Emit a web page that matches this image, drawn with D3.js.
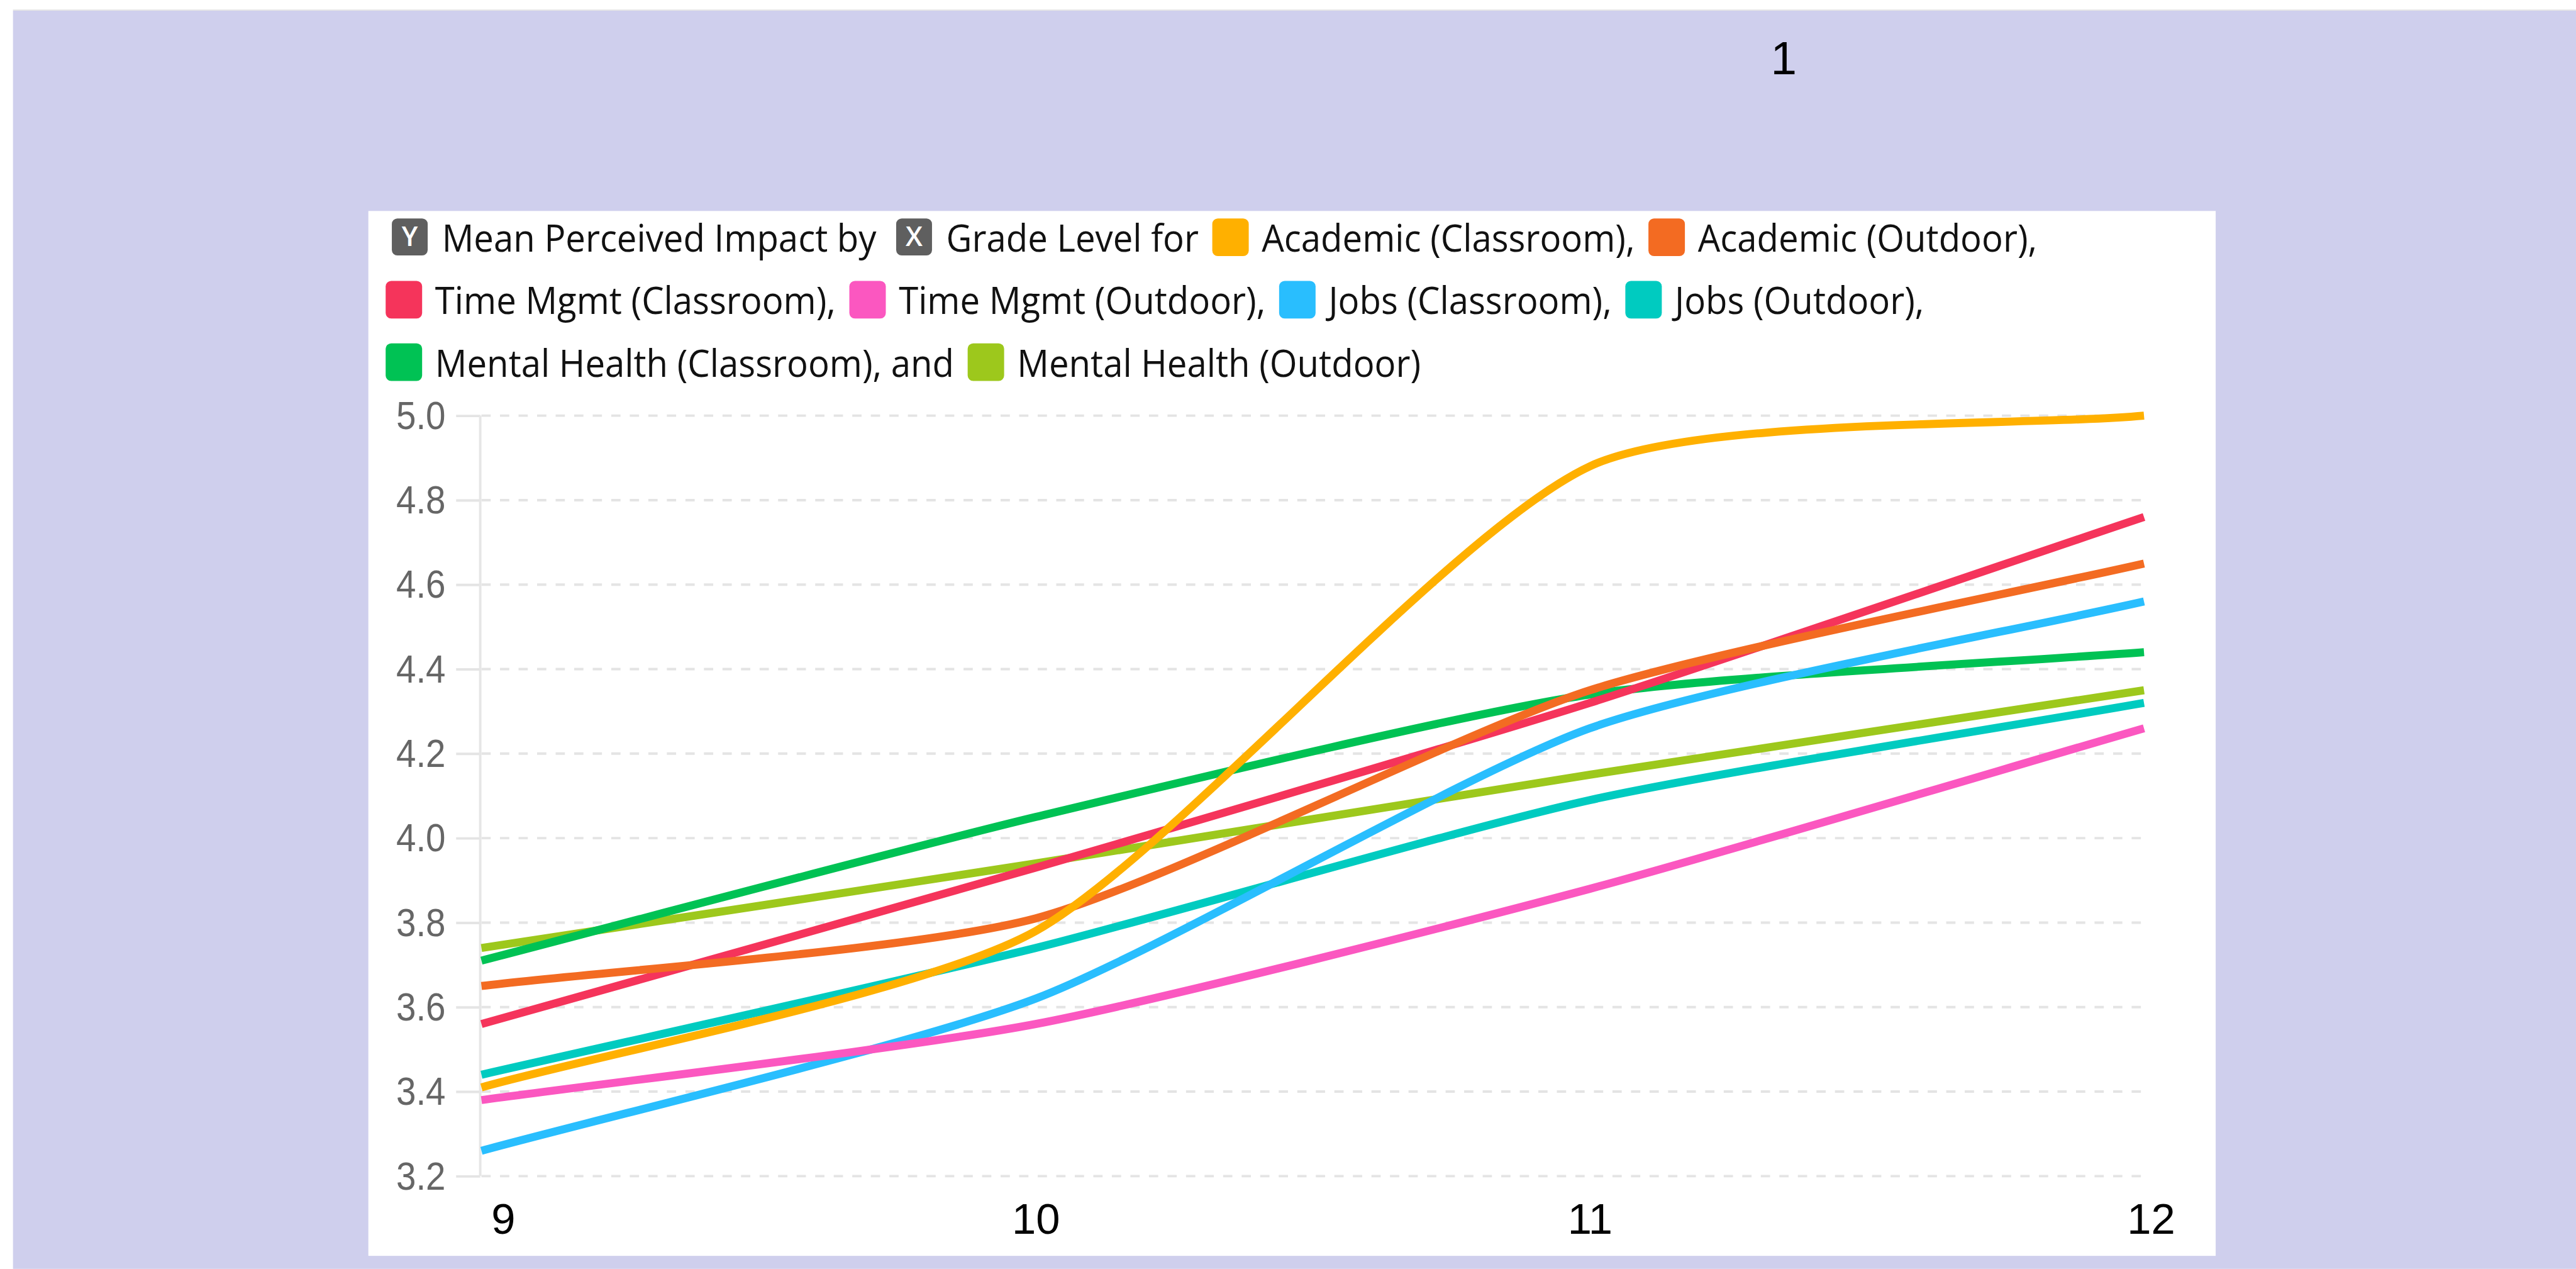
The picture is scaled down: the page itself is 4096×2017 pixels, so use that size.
<!DOCTYPE html>
<html>
<head>
<meta charset="utf-8">
<title>Mean Perceived Impact by Grade Level</title>
<style>
    body { margin: 0; background: #fff; }
    .grid { stroke: #e4e4e4; stroke-width: 4px; stroke-dasharray: 15 15; }
    .ytick line { stroke: #e4e4e4; stroke-width: 4px; }
    .ytick text { fill: #666; font-family: "Liberation Sans", Arial, sans-serif; font-size: 64px; }
    .xtick text { fill: #000; font-family: "Liberation Sans", Arial, sans-serif; font-size: 70px; }
    .series { fill: none; stroke-width: 13px; stroke-linecap: butt; stroke-linejoin: round; }
    .legend text { font-family: "Open Sans", "Noto Sans", sans-serif; font-size: 62px; fill: #111; }
</style>
</head>
<body>
<svg id="chart" width="4096" height="2017" viewBox="0 0 4168 2052"></svg>
<script src="https://cdn.jsdelivr.net/npm/d3@7/dist/d3.min.js"></script>
<script>
    // values
    const grades = [9, 10, 11, 12]
    const academicClassroom = [3.41, 3.78, 4.88, 5.00]
    const academicOutdoor = [3.65, 3.81, 4.35, 4.65]
    const timeClassroom = [3.56, 3.93, 4.32, 4.76]
    const timeOutdoor = [3.38, 3.56, 3.88, 4.26]
    const jobsClassroom = [3.26, 3.62, 4.26, 4.56]
    const jobsOutdoor = [3.44, 3.74, 4.09, 4.32]
    const mentalClassroom = [3.71, 4.05, 4.34, 4.44]
    const mentalOutdoor = [3.74, 3.94, 4.15, 4.35]

    const seriesNames = ["Academic (Classroom)", "Academic (Outdoor)", "Time Mgmt (Classroom)",
        "Time Mgmt (Outdoor)", "Jobs (Classroom)", "Jobs (Outdoor)",
        "Mental Health (Classroom)", "Mental Health (Outdoor)"]
    const seriesValues = [academicClassroom, academicOutdoor, timeClassroom, timeOutdoor,
        jobsClassroom, jobsOutdoor, mentalClassroom, mentalOutdoor]
    const seriesColors = ["#ffb000", "#f36b22", "#f5345b", "#fb57c0",
        "#29befe", "#00cbc0", "#00c254", "#9dc81c"]
    const yTicks = [3.2, 3.4, 3.6, 3.8, 4.0, 4.2, 4.4, 4.6, 4.8, 5.0]
    const yLabel = "Mean Perceived Impact by"
    const xLabel = "Grade Level for"

    let svg = d3.select("#chart")

    // page background
    svg.append("rect").attr("x", 0).attr("y", 0).attr("width", 4168).attr("height", 2052).attr("fill", "#fff")
    svg.append("rect").attr("x", 21).attr("y", 17).attr("width", 4147).attr("height", 2035).attr("fill", "#cfcfed")
    svg.append("line").attr("x1", 21).attr("x2", 4168).attr("y1", 16).attr("y2", 16)
        .attr("stroke", "#e6e6e6").attr("stroke-width", 2)

    svg.append("text").text("1")
        .attr("x", 2886).attr("y", 120)
        .attr("text-anchor", "middle")
        .style("font-family", "'Liberation Sans', Arial, sans-serif")
        .style("font-size", "76px")

    // white chart card
    svg.append("rect").attr("x", 596).attr("y", 341).attr("width", 2989).attr("height", 1690).attr("fill", "#fff")

    let xScale = d3.scaleLinear().domain([9, 12]).range([779, 3469])
    let yScale = d3.scaleLinear().domain([3.2, 5.0]).range([1902, 672])

    // dashed grid
    svg.append("g").selectAll("line")
        .data(yTicks)
        .join("line")
        .attr("class", "grid")
        .attr("x1", xScale(9)).attr("x2", xScale(12))
        .attr("y1", d => yScale(d)).attr("y2", d => yScale(d))

    // y axis
    let yAxis = svg.append("g")
        .attr("class", "ytick")
        .attr("transform", `translate(${xScale(9) - 2}, 0)`)
        .call(d3.axisLeft(yScale)
            .tickValues(yTicks)
            .tickFormat(d3.format(".1f"))
            .tickSize(39)
            .tickPadding(17))
    yAxis.select(".domain").remove()
    yAxis.selectAll("text").attr("dy", "0.33em").attr("textLength", 80).attr("lengthAdjust", "spacingAndGlyphs")

    svg.append("line")
        .attr("x1", xScale(9) - 2).attr("x2", xScale(9) - 2)
        .attr("y1", yScale(5.0)).attr("y2", yScale(3.2))
        .attr("stroke", "#e6e6e6").attr("stroke-width", 4)

    // x axis
    let xAxis = svg.append("g")
        .attr("class", "xtick")
        .attr("transform", `translate(0, ${yScale(3.2)})`)
        .call(d3.axisBottom(xScale)
            .tickValues(grades)
            .tickFormat(d3.format("d"))
            .tickSize(0)
            .tickPadding(44))
    xAxis.select(".domain").remove()
    // end labels sit a little right of their ticks in the reference
    xAxis.selectAll("text").attr("dx", (d, i) => i == 0 ? 35 : (i == grades.length - 1 ? 11 : 0))

    // light tension spline, control points kept inside the plot area
    function splinePath(values) {
        let pts = values.map((v, i) => [xScale(grades[i]), yScale(v)])
        let tension = 0.22
        let [left, right] = xScale.range()
        let [bottom, top] = yScale.range()
        let clampX = x => Math.max(left, Math.min(right, x))
        let clampY = y => Math.max(top, Math.min(bottom, y))
        let cps = pts.map((p, i) => {
            let prev = pts[i - 1] || p
            let next = pts[i + 1] || p
            let d01 = Math.hypot(p[0] - prev[0], p[1] - prev[1])
            let d12 = Math.hypot(next[0] - p[0], next[1] - p[1])
            let s01 = d01 / (d01 + d12) || 0
            let s12 = d12 / (d01 + d12) || 0
            let fa = tension * s01, fb = tension * s12
            return {
                before: [clampX(p[0] - fa * (next[0] - prev[0])), clampY(p[1] - fa * (next[1] - prev[1]))],
                after: [clampX(p[0] + fb * (next[0] - prev[0])), clampY(p[1] + fb * (next[1] - prev[1]))]
            }
        })
        let path = d3.path()
        path.moveTo(pts[0][0], pts[0][1])
        for (let i = 1; i < pts.length; i++) {
            path.bezierCurveTo(cps[i - 1].after[0], cps[i - 1].after[1],
                cps[i].before[0], cps[i].before[1], pts[i][0], pts[i][1])
        }
        return path.toString()
    }

    // first series drawn last so it sits on top
    let order = d3.range(seriesNames.length).reverse()
    svg.append("g").selectAll("path")
        .data(order)
        .join("path")
        .attr("class", "series")
        .attr("stroke", i => seriesColors[i])
        .attr("d", i => splinePath(seriesValues[i]))

    // legend sentence, laid out as flowing text
    let legend = svg.append("g").attr("class", "legend")
    let rows = [
        [{ badge: "Y", text: yLabel }, { badge: "X", text: xLabel }, { s: 0 }, { s: 1 }],
        [{ s: 2 }, { s: 3 }, { s: 4 }, { s: 5 }],
        [{ s: 6, and: true }, { s: 7, last: true }]
    ]

    // the reference uses a narrower UI font, squeeze glyphs to match
    let probe = legend.append("text").text(yLabel)
    let k = 703 / probe.node().getComputedTextLength()
    probe.remove()

    rows.forEach((row, r) => {
        let x = 624
        let top = 353 + r * 101
        row.forEach(item => {
            let label
            if (item.badge) {
                legend.append("rect")
                    .attr("x", x + 10).attr("y", top)
                    .attr("width", 58).attr("height", 60)
                    .attr("rx", 9).attr("fill", "#5f5f5f")
                legend.append("text").text(item.badge)
                    .attr("x", x + 39).attr("y", top + 45)
                    .attr("text-anchor", "middle")
                    .style("fill", "#fff").style("font-size", "44px").style("font-weight", "600")
                x += 91
                label = item.text
            } else {
                legend.append("rect")
                    .attr("x", x).attr("y", top)
                    .attr("width", 59).attr("height", 61)
                    .attr("rx", 9).attr("fill", seriesColors[item.s])
                x += 80
                label = seriesNames[item.s] + (item.last ? "" : (item.and ? ", and" : ","))
            }
            let t = legend.append("text").text(label)
                .attr("transform", `translate(${x}, ${top + 54}) scale(${k}, 1)`)
            x += t.node().getComputedTextLength() * k + 22
        })
    })
</script>
</body>
</html>
